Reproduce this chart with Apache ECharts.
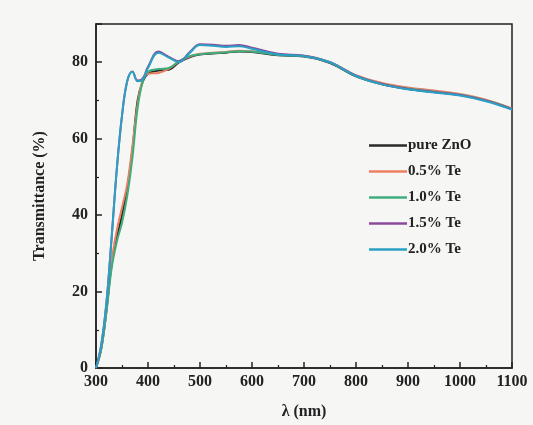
<!DOCTYPE html>
<html>
<head>
<meta charset="utf-8">
<script src="https://cdn.jsdelivr.net/npm/echarts@6/dist/echarts.min.js"></script>
<style>
  html, body { margin: 0; padding: 0; background: #f6f6f4; }
  #chart { width: 533px; height: 425px; }
</style>
</head>
<body>
<div id="chart"></div>
<script>
// wavelength (nm) shared by all samples
var wavelength = [300, 310, 320, 330, 340, 350, 360, 370, 380, 390, 400, 420, 440, 460, 480, 500, 525, 550, 575, 600, 650, 700, 750, 800, 850, 900, 950, 1000, 1050, 1100];

// transmittance (%)
var pureZnO = [0, 5, 15, 27, 34, 40, 47, 57, 70, 75, 77, 77.8, 78, 80, 81.3, 82, 82.3, 82.5, 82.8, 82.7, 81.8, 81.5, 79.8, 76.3, 74.2, 73, 72.2, 71.4, 70, 67.8];
var te05 = [0, 5, 15, 28, 36, 42, 48, 58, 69, 75.5, 77, 77.2, 78.3, 80.2, 81.5, 82.2, 82.5, 82.7, 83, 82.9, 82, 81.7, 80, 76.6, 74.6, 73.4, 72.6, 71.7, 70.2, 67.9];
var te10 = [0, 5, 14.5, 26, 33, 38, 45, 55, 68, 75, 77.5, 78.2, 78.5, 80.3, 81.6, 82.1, 82.4, 82.6, 82.9, 82.8, 81.9, 81.6, 79.9, 76.4, 74.3, 73.1, 72.3, 71.5, 70, 67.8];
var te15 = [0, 6, 17, 34, 52, 66, 75, 77.6, 75.2, 75.8, 78.8, 82.8, 81.4, 80.2, 82.6, 84.7, 84.6, 84.3, 84.5, 83.8, 82.2, 81.7, 80, 76.5, 74.3, 73, 72.2, 71.4, 69.9, 67.7];
var te20 = [0, 6, 17, 34, 52, 66, 75, 77.5, 75, 75.5, 78.5, 82.5, 81.2, 80, 82.4, 84.5, 84.3, 84, 84.2, 83.5, 82, 81.6, 80, 76.4, 74.2, 72.9, 72.1, 71.3, 69.8, 67.6];

var names = ['pure ZnO', '0.5% Te', '1.0% Te', '1.5% Te', '2.0% Te'];
var values = [pureZnO, te05, te10, te15, te20];
var colors = ['#2a2a2a', '#ec7f62', '#3fae7c', '#8c4a9c', '#2aa0c4'];

var xTicks = [300, 400, 500, 600, 700, 800, 900, 1000, 1100];
var yTicks = [0, 20, 40, 60, 80];

function pairs(ys) {
  return wavelength.map(function (x, i) { return [x, ys[i]]; });
}

var font = 'Liberation Serif';
var chart = echarts.init(document.getElementById('chart'));

var series = [];
for (var i = 0; i < names.length; i++) {
  series.push({
    name: names[i],
    type: 'line',
    smooth: 0.4,
    symbol: 'none',
    data: pairs(values[i]),
    lineStyle: { width: 2, color: colors[i] },
    itemStyle: { color: colors[i] },
    z: i < 3 ? 3 : 4
  });
}

chart.setOption({
  backgroundColor: '#f6f6f4',
  animation: false,
  grid: {
    left: 96, right: 21, top: 24, bottom: 53,
    show: true, borderColor: '#222', borderWidth: 1.5
  },
  legend: {
    orient: 'vertical',
    left: 364,
    top: 132,
    icon: 'rect',
    itemGap: 9,
    itemWidth: 38,
    itemHeight: 2.5,
    data: names,
    textStyle: { fontFamily: font, fontWeight: 'bold', fontSize: 15, color: '#222', padding: [0, 0, 0, -4], lineHeight: 17 }
  },
  xAxis: {
    type: 'value',
    min: 300, max: 1100, interval: 100,
    name: 'λ (nm)',
    nameLocation: 'middle',
    nameGap: 36,
    nameTextStyle: { fontFamily: font, fontWeight: 'bold', fontSize: 16, color: '#222' },
    axisLine: { lineStyle: { color: '#222', width: 1.5 } },
    axisTick: { inside: true, length: 6, lineStyle: { color: '#222', width: 1.5 } },
    minorTick: { show: true, splitNumber: 2, length: 3, lineStyle: { color: '#222', width: 1.2 } },
    splitLine: { show: false },
    axisLabel: {
      fontFamily: font, fontWeight: 'bold', fontSize: 16, color: '#222', margin: 6,
      formatter: function (v) { return xTicks.indexOf(v) >= 0 ? String(v) : ''; }
    }
  },
  yAxis: {
    type: 'value',
    min: 0, max: 90, interval: 20,
    name: 'Transmittance (%)',
    nameLocation: 'middle',
    nameGap: 48,
    nameTextStyle: { fontFamily: font, fontWeight: 'bold', fontSize: 16, color: '#222' },
    axisLine: { lineStyle: { color: '#222', width: 1.5 } },
    axisTick: { inside: true, length: 6, lineStyle: { color: '#222', width: 1.5 } },
    minorTick: { show: true, splitNumber: 2, length: 3, lineStyle: { color: '#222', width: 1.2 } },
    splitLine: { show: false },
    axisLabel: {
      fontFamily: font, fontWeight: 'bold', fontSize: 16, color: '#222', margin: 8,
      formatter: function (v) { return yTicks.indexOf(v) >= 0 ? String(v) : ''; }
    }
  },
  series: series
});
</script>
</body>
</html>
